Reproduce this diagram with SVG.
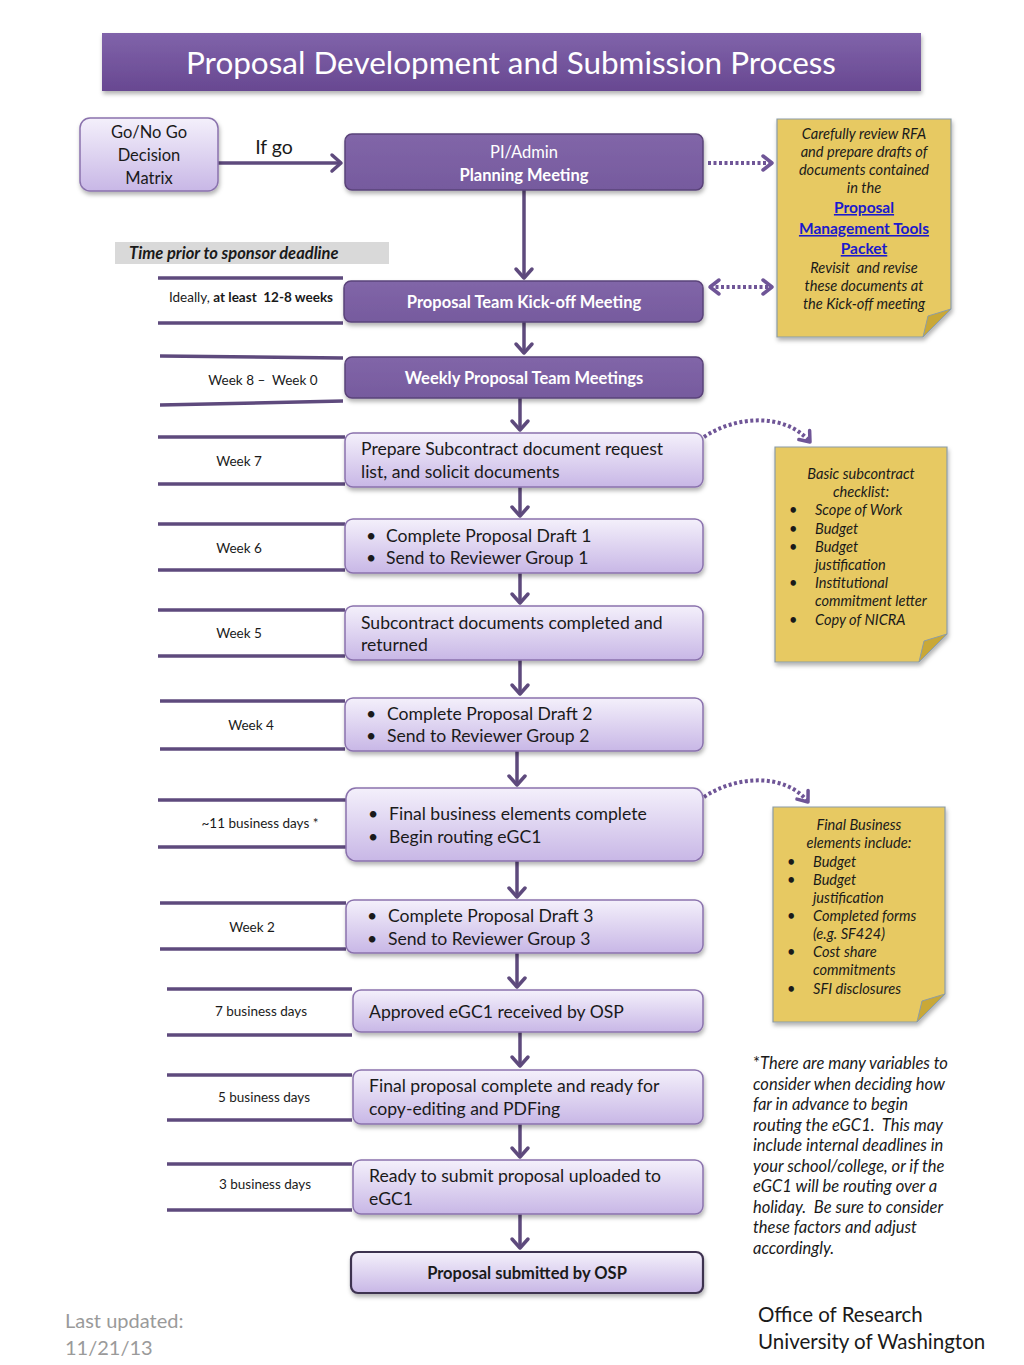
<svg xmlns="http://www.w3.org/2000/svg" width="1024" height="1365" viewBox="0 0 1024 1365">
<defs>
<linearGradient id="gTitle" x1="0" y1="0" x2="0" y2="1"><stop offset="0" stop-color="#8063aa"/><stop offset="1" stop-color="#684891"/></linearGradient>
<linearGradient id="gLight" x1="0" y1="0" x2="0" y2="1"><stop offset="0" stop-color="#f4f0fb"/><stop offset="1" stop-color="#c8b7e6"/></linearGradient>
<linearGradient id="gDark" x1="0" y1="0" x2="0" y2="1"><stop offset="0" stop-color="#8166a8"/><stop offset="1" stop-color="#765a9e"/></linearGradient>
<filter id="sh" x="-10%" y="-20%" width="120%" height="150%"><feDropShadow dx="1" dy="3" stdDeviation="2" flood-color="#000" flood-opacity="0.3"/></filter>
<marker id="ah" markerUnits="userSpaceOnUse" markerWidth="24" markerHeight="24" viewBox="-12 -12 24 24" refX="0" refY="0" orient="auto">
<path d="M-9,-8 L0,0 L-9,8" fill="none" stroke="#5e4a7d" stroke-width="3.5" stroke-linecap="round" stroke-linejoin="round"/>
</marker>
<marker id="ahd" markerUnits="userSpaceOnUse" markerWidth="24" markerHeight="24" viewBox="-12 -12 24 24" refX="0" refY="0" orient="auto-start-reverse">
<path d="M-9,-7 L0,0 L-9,7" fill="none" stroke="#6f5597" stroke-width="3.5" stroke-linecap="round" stroke-linejoin="round"/>
</marker>
</defs>
<style>
text{font-family:Lato,"Open Sans","Liberation Sans",sans-serif}
.light{fill:url(#gLight);stroke:#8a72ad;stroke-width:1.5;filter:url(#sh)}
.dark{fill:url(#gDark);stroke:#5a4379;stroke-width:1.5;filter:url(#sh)}
.t{font-size:17.6px;fill:#1a1a1a}
.tw{font-size:16.5px;fill:#ffffff;font-weight:bold;text-anchor:middle}
.lbl{font-size:13.5px;fill:#1a1a1a;text-anchor:middle}
.tl{stroke:#5e4a7d;stroke-width:3.5;fill:none}
.arr{stroke:#5e4a7d;stroke-width:3.5;fill:none;marker-end:url(#ah)}
.dot{stroke:#6f5597;stroke-width:4;fill:none;stroke-dasharray:3 2.5}
.note{fill:#e7c962;stroke:#8c9ca6;stroke-width:1.2;filter:url(#sh)}
.fold{fill:#c9a837;stroke:#8c9ca6;stroke-width:1}
.ni{font-size:14.6px;font-style:italic;fill:#1a1a1a}
.nc{text-anchor:middle}
.lnk{font-size:15.5px;font-weight:bold;fill:#1a1acc;text-decoration:underline;text-anchor:middle}
.fn{font-size:16.5px;font-style:italic;fill:#1a1a1a}
</style>

<g id="title">
<rect x="102" y="33" width="819" height="58" fill="url(#gTitle)" filter="url(#sh)"/>
<text x="511" y="74" font-size="30" fill="#ffffff" text-anchor="middle" textLength="650" lengthAdjust="spacingAndGlyphs">Proposal Development and Submission Process</text>
</g>

<g id="connectors">
<line class="arr" x1="218" y1="163" x2="341" y2="163"/>
<line class="arr" x1="524" y1="190" x2="524" y2="278"/>
<line class="arr" x1="524" y1="322" x2="524" y2="353"/>
<line class="arr" x1="520" y1="398" x2="520" y2="430"/>
<line class="arr" x1="520" y1="487" x2="520" y2="516"/>
<line class="arr" x1="520" y1="573" x2="520" y2="603"/>
<line class="arr" x1="520" y1="660" x2="520" y2="694"/>
<line class="arr" x1="517" y1="751" x2="517" y2="785"/>
<line class="arr" x1="517" y1="861" x2="517" y2="897"/>
<line class="arr" x1="517" y1="953" x2="517" y2="987"/>
<line class="arr" x1="520" y1="1032" x2="520" y2="1066"/>
<line class="arr" x1="520" y1="1124" x2="520" y2="1157"/>
<line class="arr" x1="520" y1="1214" x2="520" y2="1248"/>
<line class="dot" x1="708" y1="163" x2="772" y2="163" marker-end="url(#ahd)"/>
<line class="dot" x1="710" y1="287" x2="772" y2="287" marker-start="url(#ahd)" marker-end="url(#ahd)"/>
<path class="dot" d="M704,437 C735,416 785,412 810,442" marker-end="url(#ahd)"/>
<path class="dot" d="M704,797 C735,776 785,772 808,802" marker-end="url(#ahd)"/>
<text x="274" y="154" font-size="19.5" fill="#1a1a1a" text-anchor="middle">If go</text>
</g>

<g id="timeline">
<rect x="115" y="242" width="274" height="22" fill="#d9d9d9"/>
<text x="129" y="259" font-size="16.5" font-weight="bold" font-style="italic" fill="#1a1a1a">Time prior to sponsor deadline</text>
<line class="tl" x1="158" y1="278" x2="343" y2="278"/><line class="tl" x1="158" y1="323" x2="343" y2="323"/>
<text x="251" y="302" class="lbl" xml:space="preserve">Ideally, <tspan font-weight="bold">at least  12-8 weeks</tspan></text>
<line class="tl" x1="160" y1="356" x2="343" y2="358"/><line class="tl" x1="160" y1="405" x2="343" y2="401"/>
<text x="263" y="385" class="lbl" xml:space="preserve">Week 8 –  Week 0</text>
<line class="tl" x1="158" y1="437" x2="345" y2="437"/><line class="tl" x1="158" y1="484" x2="345" y2="484"/>
<text x="239" y="466" class="lbl">Week 7</text>
<line class="tl" x1="158" y1="524" x2="345" y2="524"/><line class="tl" x1="158" y1="570" x2="345" y2="570"/>
<text x="239" y="553" class="lbl">Week 6</text>
<line class="tl" x1="158" y1="610" x2="345" y2="610"/><line class="tl" x1="158" y1="656" x2="345" y2="656"/>
<text x="239" y="638" class="lbl">Week 5</text>
<line class="tl" x1="160" y1="701" x2="345" y2="701"/><line class="tl" x1="160" y1="749" x2="345" y2="749"/>
<text x="251" y="730" class="lbl">Week 4</text>
<line class="tl" x1="158" y1="800" x2="346" y2="800"/><line class="tl" x1="158" y1="847" x2="346" y2="847"/>
<text x="260" y="828" class="lbl">~11 business days *</text>
<line class="tl" x1="160" y1="903" x2="346" y2="903"/><line class="tl" x1="160" y1="949" x2="346" y2="949"/>
<text x="252" y="932" class="lbl">Week 2</text>
<line class="tl" x1="167" y1="989" x2="352" y2="989"/><line class="tl" x1="167" y1="1035" x2="352" y2="1035"/>
<text x="261" y="1016" class="lbl">7 business days</text>
<line class="tl" x1="167" y1="1075" x2="352" y2="1075"/><line class="tl" x1="167" y1="1120" x2="352" y2="1120"/>
<text x="264" y="1102" class="lbl">5 business days</text>
<line class="tl" x1="167" y1="1164" x2="352" y2="1164"/><line class="tl" x1="167" y1="1210" x2="352" y2="1210"/>
<text x="265" y="1189" class="lbl">3 business days</text>
</g>

<g id="gonogo">
<rect class="light" x="80" y="118" width="138" height="73" rx="10"/>
<text x="149" y="138" font-size="16.5" fill="#1a1a1a" text-anchor="middle">Go/No Go</text>
<text x="149" y="161" font-size="16.5" fill="#1a1a1a" text-anchor="middle">Decision</text>
<text x="149" y="184" font-size="16.5" fill="#1a1a1a" text-anchor="middle">Matrix</text>
</g>

<g id="planning">
<rect class="dark" x="345" y="134" width="358" height="56" rx="7"/>
<text x="524" y="158" class="tw" style="font-weight:normal">PI/Admin</text>
<text x="524" y="181" class="tw">Planning Meeting</text>
</g>

<g id="kickoff">
<rect class="dark" x="344" y="281" width="359" height="41" rx="7"/>
<text x="524" y="308" class="tw">Proposal Team Kick-off Meeting</text>
</g>

<g id="weekly">
<rect class="dark" x="345" y="357" width="358" height="41" rx="7"/>
<text x="524" y="384" class="tw">Weekly Proposal Team Meetings</text>
</g>

<g id="subreq">
<rect class="light" x="345" y="433" width="358" height="54" rx="8"/>
<text x="361" y="455" class="t">Prepare Subcontract document request</text>
<text x="361" y="478" class="t">list, and solicit documents</text>
</g>

<g id="draft1">
<rect class="light" x="345" y="519" width="358" height="54" rx="8"/>
<text x="366" y="542" class="t">•</text><text x="386" y="542" class="t">Complete Proposal Draft 1</text>
<text x="366" y="564" class="t">•</text><text x="386" y="564" class="t">Send to Reviewer Group 1</text>
</g>

<g id="subdone">
<rect class="light" x="345" y="606" width="358" height="54" rx="8"/>
<text x="361" y="629" class="t">Subcontract documents completed and</text>
<text x="361" y="651" class="t">returned</text>
</g>

<g id="draft2">
<rect class="light" x="345" y="698" width="358" height="53" rx="8"/>
<text x="366" y="720" class="t">•</text><text x="387" y="720" class="t">Complete Proposal Draft 2</text>
<text x="366" y="742" class="t">•</text><text x="387" y="742" class="t">Send to Reviewer Group 2</text>
</g>

<g id="business">
<rect class="light" x="346" y="788" width="357" height="73" rx="10"/>
<text x="368" y="820" class="t">•</text><text x="389" y="820" class="t">Final business elements complete</text>
<text x="368" y="843" class="t">•</text><text x="389" y="843" class="t">Begin routing eGC1</text>
</g>

<g id="draft3">
<rect class="light" x="346" y="900" width="357" height="53" rx="8"/>
<text x="367" y="922" class="t">•</text><text x="388" y="922" class="t">Complete Proposal Draft 3</text>
<text x="367" y="945" class="t">•</text><text x="388" y="945" class="t">Send to Reviewer Group 3</text>
</g>

<g id="approved">
<rect class="light" x="353" y="990" width="350" height="42" rx="8"/>
<text x="369" y="1018" class="t">Approved eGC1 received by OSP</text>
</g>

<g id="finalprop">
<rect class="light" x="353" y="1070" width="350" height="54" rx="8"/>
<text x="369" y="1092" class="t">Final proposal complete and ready for</text>
<text x="369" y="1115" class="t">copy-editing and PDFing</text>
</g>

<g id="ready">
<rect class="light" x="353" y="1160" width="350" height="54" rx="8"/>
<text x="369" y="1182" class="t">Ready to submit proposal uploaded to</text>
<text x="369" y="1205" class="t">eGC1</text>
</g>

<g id="submitted">
<rect x="351" y="1252" width="352" height="41" rx="7" fill="url(#gLight)" stroke="#3d3050" stroke-width="2.2" filter="url(#sh)"/>
<text x="527" y="1279" font-size="16.5" font-weight="bold" fill="#1a1a1a" text-anchor="middle">Proposal submitted by OSP</text>
</g>

<g id="note1">
<path class="note" d="M777,119 H951 V309 L923,337 H777 Z"/>
<path class="fold" d="M923,337 L951,309 L928,316 Z"/>
<text x="864" y="139" class="ni nc">Carefully review RFA</text>
<text x="864" y="157" class="ni nc">and prepare drafts of</text>
<text x="864" y="175" class="ni nc">documents contained</text>
<text x="864" y="193" class="ni nc">in the</text>
<text x="864" y="213" class="lnk">Proposal</text>
<text x="864" y="234" class="lnk">Management Tools</text>
<text x="864" y="254" class="lnk">Packet</text>
<text x="864" y="273" class="ni nc" xml:space="preserve">Revisit  and revise</text>
<text x="864" y="291" class="ni nc">these documents at</text>
<text x="864" y="309" class="ni nc">the Kick-off meeting</text>
</g>

<g id="note2">
<path class="note" d="M775,447 H947 V634 L919,662 H775 Z"/>
<path class="fold" d="M919,662 L947,634 L924,641 Z"/>
<text x="861" y="479" class="ni nc">Basic subcontract</text>
<text x="861" y="497" class="ni nc">checklist:</text>
<text x="789" y="515" class="ni">•</text><text x="815" y="515" class="ni">Scope of Work</text>
<text x="789" y="534" class="ni">•</text><text x="815" y="534" class="ni">Budget</text>
<text x="789" y="552" class="ni">•</text><text x="815" y="552" class="ni">Budget</text>
<text x="815" y="570" class="ni">justification</text>
<text x="789" y="588" class="ni">•</text><text x="815" y="588" class="ni">Institutional</text>
<text x="815" y="606" class="ni">commitment letter</text>
<text x="789" y="625" class="ni">•</text><text x="815" y="625" class="ni">Copy of NICRA</text>
</g>

<g id="note3">
<path class="note" d="M773,807 H945 V994 L917,1022 H773 Z"/>
<path class="fold" d="M917,1022 L945,994 L922,1001 Z"/>
<text x="859" y="830" class="ni nc">Final Business</text>
<text x="859" y="848" class="ni nc">elements include:</text>
<text x="787" y="867" class="ni">•</text><text x="813" y="867" class="ni">Budget</text>
<text x="787" y="885" class="ni">•</text><text x="813" y="885" class="ni">Budget</text>
<text x="813" y="903" class="ni">justification</text>
<text x="787" y="921" class="ni">•</text><text x="813" y="921" class="ni">Completed forms</text>
<text x="813" y="939" class="ni">(e.g. SF424)</text>
<text x="787" y="957" class="ni">•</text><text x="813" y="957" class="ni">Cost share</text>
<text x="813" y="975" class="ni">commitments</text>
<text x="787" y="994" class="ni">•</text><text x="813" y="994" class="ni">SFI disclosures</text>
</g>

<g id="footnote">
<text x="753" y="1069" class="fn"><tspan font-style="normal">*</tspan>There are many variables to</text>
<text x="753" y="1090" class="fn">consider when deciding how</text>
<text x="753" y="1110" class="fn">far in advance to begin</text>
<text x="753" y="1131" class="fn" xml:space="preserve">routing the eGC1.  This may</text>
<text x="753" y="1151" class="fn">include internal deadlines in</text>
<text x="753" y="1172" class="fn">your school/college, or if the</text>
<text x="753" y="1192" class="fn">eGC1 will be routing over a</text>
<text x="753" y="1213" class="fn" xml:space="preserve">holiday.  Be sure to consider</text>
<text x="753" y="1233" class="fn">these factors and adjust</text>
<text x="753" y="1254" class="fn">accordingly.</text>
</g>

<g id="footer">
<text x="65" y="1328" font-size="20" fill="#9a9a9a">Last updated:</text>
<text x="65" y="1355" font-size="20" fill="#9a9a9a">11/21/13</text>
<text x="758" y="1322" font-size="20.5" fill="#1a1a1a">Office of Research</text>
<text x="758" y="1349" font-size="20.5" fill="#1a1a1a">University of Washington</text>
</g>
</svg>
